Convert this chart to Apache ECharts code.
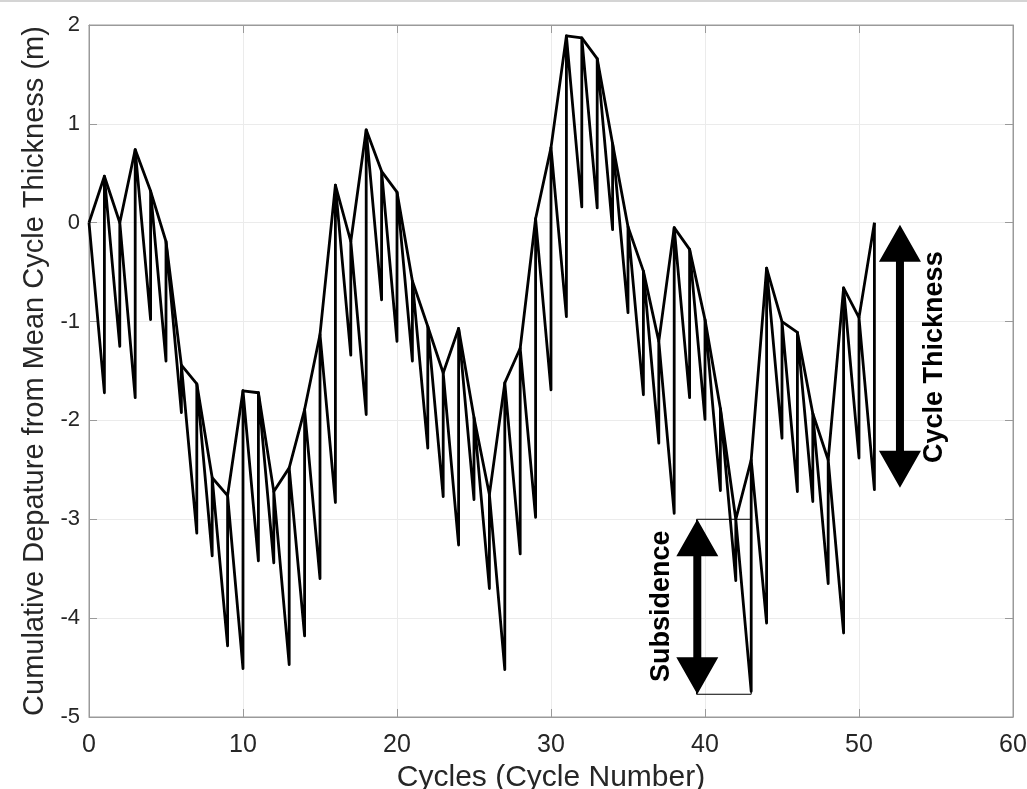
<!DOCTYPE html>
<html>
<head>
<meta charset="utf-8">
<script src="https://cdn.jsdelivr.net/npm/echarts@6/dist/echarts.min.js"></script>
<style>
  html, body { margin: 0; padding: 0; background: #fff; }
  #container { width: 1027px; height: 789px; }
</style>
</head>
<body>
<div id="container"></div>
<script>
// top of each cycle (cumulative departure), cycle 0..51
let tops = [0, 0.47, 0.0, 0.74, 0.32, -0.19, -1.44, -1.63, -2.58, -2.76,
    -1.70, -1.72, -2.72, -2.48, -1.89, -1.13, 0.38, -0.19, 0.94, 0.52,
    0.31, -0.59, -1.05, -1.52, -1.07, -1.97, -2.75, -1.62, -1.27, 0.04,
    0.76, 1.89, 1.87, 1.66, 0.80, -0.04, -0.49, -1.20, -0.05, -0.27,
    -0.98, -1.88, -3.00, -2.40, -0.46, -1.00, -1.11, -1.93, -2.40, -0.66,
    -0.96, 0.0];
// base of each cycle after subsidence, cycle 1..51
let bottoms = [-1.72, -1.25, -1.77, -0.98, -1.40, -1.92, -3.14, -3.37, -4.28,
    -4.51, -3.42, -3.44, -4.47, -4.18, -3.60, -2.83, -1.34, -1.94, -0.78,
    -1.20, -1.40, -2.28, -2.77, -3.26, -2.80, -3.70, -4.52, -3.35, -2.98,
    -1.69, -0.95, 0.16, 0.15, -0.07, -0.91, -1.74, -2.23, -2.94, -1.77,
    -1.99, -2.71, -3.62, -4.74, -4.05, -2.18, -2.72, -2.82, -3.65, -4.15,
    -2.38, -2.70];

let xTicks = [0, 10, 20, 30, 40, 50, 60];
let yTicks = [-5, -4, -3, -2, -1, 0, 1, 2];

// annotations: double arrows [x, yTop, yBottom], texts [x, y]
let arrows = [[52.66, -0.02, -2.68], [39.5, -3.0, -4.77]];
let noteText = ['Cycle Thickness', 'Subsidence'];
let notePos = [[54.92, -1.36], [37.19, -3.88]];
let boxX = [39.45, 43.0];
let boxY = [-3.0, -4.77];

let envelope = tops.map((t, i) => [i, t]);
let saw = [[0, tops[0]]];
for (let i = 1; i < tops.length; i++) {
    saw.push([i, bottoms[i - 1]]);
    saw.push([i, tops[i]]);
}
let box = [[boxX[0], boxY[0]], [boxX[1], boxY[0]], [boxX[1], boxY[1]],
    [boxX[0], boxY[1]], [boxX[0], boxY[0]]];

let font = "'Liberation Sans', Arial, Helvetica, sans-serif";
let frame = '#9a9a9a';
let txt = '#262626';

function renderArrow(params, api) {
    let a = api.coord([api.value(0), api.value(1)]);
    let b = api.coord([api.value(0), api.value(2)]);
    let cx = a[0], y1 = a[1], y2 = b[1];
    let hw = 21, hh = 37, sw = 4;
    return {
        type: 'polygon',
        shape: {points: [[cx, y1], [cx + hw, y1 + hh], [cx + sw, y1 + hh],
            [cx + sw, y2 - hh], [cx + hw, y2 - hh], [cx, y2],
            [cx - hw, y2 - hh], [cx - sw, y2 - hh], [cx - sw, y1 + hh],
            [cx - hw, y1 + hh]]},
        style: {fill: '#000'}
    };
}

function renderNote(params, api) {
    let p = api.coord([api.value(0), api.value(1)]);
    return {
        type: 'text',
        x: p[0], y: p[1],
        rotation: Math.PI / 2,
        style: {
            text: noteText[params.dataIndex],
            fill: '#000',
            font: 'bold 27px ' + font,
            align: 'center', verticalAlign: 'middle',
            textAlign: 'center', textVerticalAlign: 'middle'
        }
    };
}

let chart = echarts.init(document.getElementById('container'));
chart.setOption({
    animation: false,
    backgroundColor: '#fff',
    graphic: [{
        type: 'rect', left: 0, top: 0,
        shape: {width: 1027, height: 2},
        style: {fill: '#d4d4d4'}
    }],
    grid: {left: 89, right: 14, top: 25, bottom: 72, outerBoundsMode: 'none',
        show: true, borderColor: frame, borderWidth: 1},
    xAxis: [{
        type: 'value', min: xTicks[0], max: xTicks[xTicks.length - 1], interval: 10,
        position: 'bottom',
        name: 'Cycles (Cycle Number)', nameLocation: 'middle', nameGap: 46,
        nameTextStyle: {fontSize: 30, color: txt, fontFamily: font},
        axisLine: {show: true, onZero: false, lineStyle: {color: frame}},
        axisTick: {show: true, inside: true, length: 8, lineStyle: {color: frame}},
        axisLabel: {fontSize: 25, color: txt, fontFamily: font, margin: 16},
        splitLine: {show: true, lineStyle: {color: '#ebebeb'}}
    }, {
        type: 'value', min: 0, max: 60, interval: 10, position: 'top',
        axisLine: {show: true, onZero: false, lineStyle: {color: frame}},
        axisTick: {show: true, inside: true, length: 8, lineStyle: {color: frame}},
        axisLabel: {show: false}, splitLine: {show: false}
    }],
    yAxis: [{
        type: 'value', min: yTicks[0], max: yTicks[yTicks.length - 1], interval: 1,
        position: 'left',
        name: 'Cumulative Depature from Mean Cycle Thickness (m)',
        nameLocation: 'middle', nameGap: 38, nameRotate: 90,
        nameTextStyle: {fontSize: 29, color: txt, fontFamily: font},
        axisLine: {show: true, onZero: false, lineStyle: {color: frame}},
        axisTick: {show: true, inside: true, length: 8, lineStyle: {color: frame}},
        axisLabel: {fontSize: 22, color: txt, fontFamily: font, margin: 9},
        splitLine: {show: true, lineStyle: {color: '#ebebeb'}}
    }, {
        type: 'value', min: -5, max: 2, interval: 1, position: 'right',
        axisLine: {show: true, onZero: false, lineStyle: {color: frame}},
        axisTick: {show: true, inside: true, length: 8, lineStyle: {color: frame}},
        axisLabel: {show: false}, splitLine: {show: false}
    }],
    series: [{
        name: 'envelope', type: 'line', data: envelope,
        showSymbol: false, symbol: 'none',
        lineStyle: {color: '#000', width: 2.8, join: 'round'}
    }, {
        name: 'cycles', type: 'line', data: saw,
        showSymbol: false, symbol: 'none',
        lineStyle: {color: '#000', width: 2.8, join: 'round'}
    }, {
        name: 'box', type: 'line', data: box,
        showSymbol: false, symbol: 'none',
        lineStyle: {color: '#000', width: 1}
    }, {
        name: 'arrows', type: 'custom', data: arrows,
        renderItem: renderArrow, z: 5
    }, {
        name: 'notes', type: 'custom', data: notePos,
        renderItem: renderNote, z: 5
    }]
});
</script>
</body>
</html>
